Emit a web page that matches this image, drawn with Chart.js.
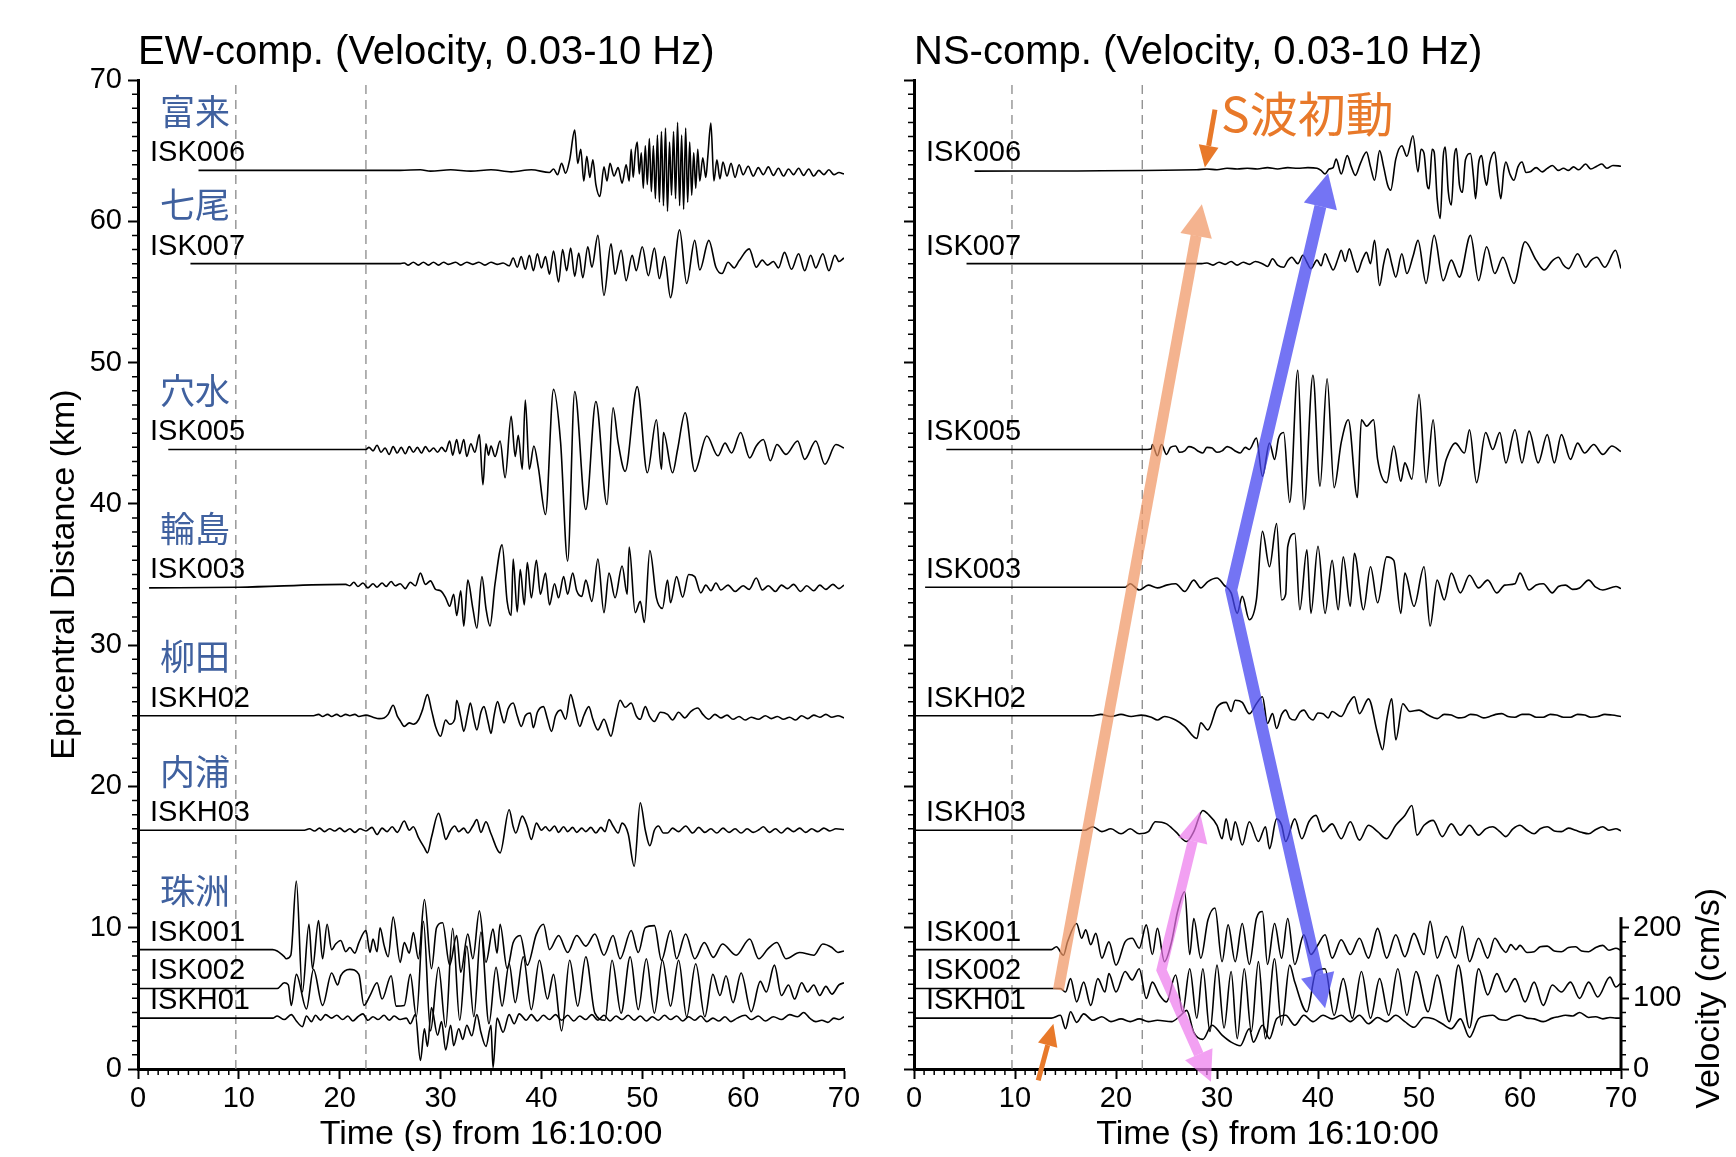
<!DOCTYPE html>
<html>
<head>
<meta charset="utf-8">
<script src="https://cdn.jsdelivr.net/npm/chart.js@4.4.1/dist/chart.umd.min.js"></script>
<style>
body { margin: 0; background: #fff; width: 1736px; height: 1157px; overflow: hidden; position: relative; }
canvas { position: absolute; top: 0; }
#ew { left: 0; }
#ns { left: 880px; }
</style>
</head>
<body>
<canvas id="ew" width="870" height="1157"></canvas>
<canvas id="ns" width="856" height="1157"></canvas>
<script>
const stations = ['ISK006', 'ISK007', 'ISK005', 'ISK003', 'ISKH02', 'ISKH03', 'ISK001', 'ISK002', 'ISKH01'];
const distances = [63.6, 57.0, 43.85, 34.1, 25.0, 16.9, 8.45, 5.7, 3.6];
const placeNames = ['富来', '七尾', '穴水', '輪島', '柳田', '内浦', '珠洲'];
const xTicks = [0, 10, 20, 30, 40, 50, 60, 70];
const yTicks = [0, 10, 20, 30, 40, 50, 60, 70];
const velTicks = [0, 100, 200];
const markerTimes = [9.7, 22.6];
const cmsPerKm = 20;

// EW component, [time (s), velocity (cm/s)]
const ewISK006 = [[6,0],[26,0],[28,1],[29,-1],[31,1],[33,-1],[35,1],[37,-2],[39,1],[40.8,-3],[41.2,2],[41.6,-6],[42,10],[42.4,-4],[42.8,15],[43.3,57],[43.6,10],[43.9,30],[44.2,-15],[44.5,20],[44.8,-10],[45.1,15],[45.4,-20],[45.8,-37],[46.2,5],[46.5,-15],[46.8,10],[47.2,-8],[47.6,4],[48.0,-18],[48.4,8],[48.7,-15],[48.9,30],[49.1,-10],[49.3,25],[49.5,40],[49.7,-5],[49.9,25],[50.1,-25],[50.3,35],[50.5,-20],[50.7,45],[50.9,-30],[51.1,35],[51.3,-40],[51.5,50],[51.7,-45],[51.9,55],[52.1,-50],[52.3,60],[52.5,-58],[52.7,40],[52.9,-35],[53.1,55],[53.3,-40],[53.5,68],[53.7,-50],[53.9,50],[54.1,-55],[54.3,60],[54.5,-45],[54.7,40],[54.9,-35],[55.1,25],[55.3,-25],[55.5,30],[55.7,-15],[56.0,18],[56.3,-10],[56.5,20],[56.8,67],[57.1,-15],[57.4,15],[57.7,-12],[58.0,12],[58.4,-8],[58.8,10],[59.2,-10],[59.6,8],[60,-6],[60.5,6],[61,-8],[61.5,4],[62,-6],[62.5,5],[63,-7],[63.5,3],[64,-8],[64.5,2],[65,-6],[65.5,3],[66,-7],[66.5,2],[67,-8],[67.5,0],[68,-6],[68.5,1],[69,-6],[69.5,-3],[70,-5]];
const ewISK007 = [[5.2,0],[26,0],[26.4,1],[26.8,-2],[27.3,2],[27.8,-2],[28.3,2],[28.8,-2],[29.3,2],[29.8,-2],[30.3,2],[30.8,-1],[31.5,2],[32,-2],[32.6,2],[33.2,-1],[33.8,2],[34.4,-2],[35,2],[35.6,-1],[36.2,1],[36.8,-3],[37.2,8],[37.6,-5],[38,10],[38.4,-8],[38.8,12],[39.2,-10],[39.6,14],[40,-6],[40.4,10],[40.8,-15],[41.2,18],[41.7,-26],[42.1,20],[42.5,-10],[42.9,22],[43.3,-18],[43.7,15],[44.1,-20],[44.6,24],[45.0,-5],[45.6,40],[46.2,-45],[46.9,28],[47.3,-15],[47.9,19],[48.4,-24],[49.0,12],[49.4,-10],[50.0,24],[50.6,-17],[51.2,22],[51.7,-21],[52.2,10],[52.8,-48],[53.7,48],[54.4,-28],[55.2,33],[55.7,-9],[56.6,33],[57.3,-5],[57.9,-14],[58.5,2],[59.1,-6],[59.6,4],[60.6,21],[61.3,-5],[61.9,5],[62.4,-2],[63,3],[63.5,-6],[64.1,16],[64.8,-8],[65.5,14],[66.1,-10],[66.7,12],[67.2,-6],[67.9,14],[68.5,-10],[69.1,12],[69.5,3],[70,8]];
const ewISK005 = [[3,0],[22.6,0],[22.9,3],[23.3,-2],[23.7,6],[24.1,-4],[24.5,2],[24.9,-7],[25.3,4],[25.7,-5],[26.1,3],[26.5,-6],[26.9,4],[27.3,-4],[27.7,3],[28.1,-5],[28.5,4],[28.9,-3],[29.3,2],[29.7,-4],[30.1,3],[30.5,-3],[30.9,12],[31.2,-8],[31.6,14],[31.9,-6],[32.3,14],[32.6,-10],[33.0,8],[33.4,-4],[33.85,21],[34.2,-50],[34.5,8],[34.75,-8],[35.0,5],[35.4,-10],[35.9,12],[36.4,-40],[37.0,47],[37.4,-10],[37.7,20],[38.1,-28],[38.4,70],[38.8,-28],[39.25,5],[39.7,-26],[40.4,-92],[41.2,85],[41.9,10],[42.6,-158],[43.3,82],[44.4,-85],[45.4,68],[46.5,-78],[47.1,59],[47.6,10],[48.3,-31],[49.5,89],[50.5,-33],[51.4,42],[51.9,-28],[52.1,24],[53.0,-33],[53.5,0],[54.25,52],[55.2,-31],[56.4,19],[57.5,-9],[58.2,9],[58.85,-5],[59.75,24],[60.65,-12],[61.3,5],[62.0,14],[62.7,-16],[63.35,7],[64.25,-7],[65.4,12],[66.1,-14],[67.2,12],[68.1,-21],[69.2,7],[70,2]];
const ewISK003 = [[1.1,-1],[10,0],[20.6,4],[21.0,2],[21.4,7],[21.8,1],[22.3,6],[22.8,-1],[23.3,5],[23.7,0],[24.2,6],[24.6,1],[25.1,8],[25.5,2],[26.0,5],[26.5,-2],[27.0,7],[27.5,2],[28.0,20],[28.5,4],[29.0,9],[29.5,-3],[30.0,-5],[30.5,-15],[30.9,-27],[31.3,-10],[31.6,-40],[32.0,-5],[32.3,-55],[32.7,10],[33.2,-30],[33.6,-58],[34.1,15],[34.5,-30],[34.9,-55],[35.4,5],[36.1,60],[36.6,-20],[37.0,-40],[37.2,40],[37.6,-35],[37.9,25],[38.3,-25],[38.6,35],[39.0,-15],[39.5,38],[39.9,-10],[40.4,20],[40.8,-25],[41.3,5],[41.7,-15],[42.2,15],[42.6,-10],[43.1,20],[43.5,-5],[44.0,-13],[44.4,10],[45.0,-20],[45.6,40],[46.2,-36],[46.7,20],[47.3,-15],[48.0,30],[48.5,-10],[48.7,57],[49.3,-36],[49.8,-20],[50.2,-50],[50.75,52],[51.4,-15],[52.0,-30],[52.5,10],[52.8,-22],[53.4,15],[54.0,-14],[54.6,18],[55.2,15],[55.8,-8],[56.3,3],[56.8,-5],[57.3,6],[57.8,-4],[58.5,3],[59.2,-6],[60,2],[60.6,-3],[61.3,13],[61.9,-4],[62.5,2],[63.2,-6],[63.8,3],[64.4,-2],[65,4],[65.7,-6],[66.3,2],[67,-5],[67.6,3],[68.2,-3],[68.9,4],[69.5,-2],[70,3]];
const ewISKH02 = [[0,0],[17.4,0],[17.9,2],[18.3,-1],[18.8,2],[19.2,-1],[19.7,2],[20.1,-1],[20.6,2],[21.0,0],[21.5,2],[21.9,-1],[22.6,1],[23.3,-2],[23.9,-4],[24.4,-3],[24.8,2],[25.3,15],[25.7,0],[26.0,-7],[26.4,-15],[26.9,-10],[27.3,-12],[27.8,-6],[28.2,8],[28.7,30],[29.1,8],[29.5,-15],[30.0,-29],[30.5,-6],[30.9,-12],[31.4,-5],[31.6,22],[32.0,-2],[32.3,-22],[32.7,3],[32.95,18],[33.3,-5],[33.6,-20],[34.0,5],[34.3,13],[34.7,-8],[35.0,-25],[35.3,0],[35.65,20],[36.0,3],[36.3,-10],[36.7,10],[37.2,18],[37.6,0],[38.0,-15],[38.4,0],[38.9,4],[39.2,-17],[39.6,5],[40.2,13],[40.6,-5],[41.0,-22],[41.4,0],[41.9,8],[42.4,-5],[42.9,30],[43.3,10],[43.8,-15],[44.2,0],[44.7,13],[45.1,-5],[45.6,-20],[46.2,-5],[46.9,-29],[47.3,-5],[47.8,22],[48.3,12],[48.9,18],[49.4,0],[49.8,-5],[50.3,13],[50.7,0],[51.2,-8],[51.8,5],[52.5,2],[53.0,-6],[53.6,5],[54.2,-3],[54.8,6],[55.5,11],[56,2],[56.6,-5],[57.2,2],[57.8,-3],[58.4,1],[59,-5],[59.6,-1],[60.2,-6],[60.8,-2],[61.5,-5],[62.2,0],[62.8,-4],[63.4,-1],[64,-5],[64.6,-2],[65.2,-6],[65.8,0],[66.4,-4],[67.0,1],[67.6,-2],[68.2,2],[68.8,-2],[69.4,0],[70,-3]];
const ewISKH03 = [[0,0],[16.5,0],[17,2],[17.5,-1],[18,3],[18.5,-2],[19,2],[19.5,-1],[20,3],[20.5,-2],[21,2],[21.5,-3],[22,2],[22.6,-1],[23.2,4],[23.7,-6],[24.2,3],[24.7,-2],[25.2,5],[25.7,-3],[26.4,13],[26.9,0],[27.3,5],[27.8,-10],[28.4,-25],[28.7,-32],[29.1,-10],[29.8,24],[30.2,5],[30.5,-13],[31.0,0],[31.4,6],[31.8,-2],[32.3,3],[32.7,-4],[33.2,6],[33.6,15],[34.0,-3],[34.5,12],[35.0,-5],[35.9,-32],[36.8,29],[37.2,5],[37.45,-4],[38.1,20],[38.6,5],[39.0,-13],[39.5,10],[40.0,0],[40.4,5],[40.8,-1],[41.3,6],[41.7,-3],[42.2,5],[42.6,-2],[43.1,4],[43.5,-3],[44.0,3],[44.4,-2],[44.9,4],[45.4,-4],[45.9,4],[46.3,-2],[46.7,15],[47.1,6],[47.6,-4],[48.0,10],[48.6,-5],[49.2,-51],[49.8,39],[50.3,0],[50.75,-22],[51.2,0],[51.6,6],[52.1,-4],[52.5,-4],[53.0,3],[53.6,-2],[54.3,6],[55,-4],[55.6,4],[56.2,-3],[56.8,2],[57.4,-4],[58,3],[58.6,-3],[59.2,2],[59.8,-4],[60.4,2],[61,-3],[61.6,1],[62.0,5],[62.6,-3],[63.2,2],[63.8,-4],[64.4,3],[65,-2],[65.6,3],[66.2,-3],[66.8,2],[67.4,-2],[68,3],[68.6,-1],[69.2,2],[70,1]];
const ewISK001 = [[0,0],[13.35,0],[13.8,-2],[14.5,-10],[14.7,-13],[15.15,-8],[15.7,97],[16.3,-60],[16.95,36],[17.3,-27],[17.9,41],[18.3,-13],[18.75,36],[19.2,0],[19.6,8],[20.1,13],[20.6,-3],[21.0,3],[21.5,-5],[21.9,10],[22.6,27],[23.0,-4],[23.3,15],[23.7,-3],[24.0,31],[24.4,6],[24.8,-10],[25.3,46],[26.0,-18],[26.4,10],[26.9,-5],[27.3,24],[27.8,-13],[28.4,71],[29.1,-27],[29.6,31],[30.2,38],[30.9,-22],[31.6,20],[32.0,-32],[32.7,22],[33.2,-13],[33.85,55],[34.5,-18],[35.2,29],[35.6,-5],[35.9,36],[36.6,-27],[37.2,10],[37.9,20],[38.6,-22],[39.5,22],[40.2,36],[40.8,0],[41.7,20],[42.6,-4],[43.5,20],[44.4,5],[45.3,22],[46.2,-8],[47.1,20],[47.8,-13],[48.9,27],[49.6,-4],[50.3,31],[51.2,34],[51.9,-15],[52.8,27],[53.4,-13],[54.3,22],[55.2,-13],[56.15,10],[57.05,-11],[57.95,8],[59.3,-8],[60.65,15],[61.55,-13],[62.45,1],[63.35,10],[64.25,-13],[65.6,-4],[67.0,-8],[67.9,8],[68.8,3],[69.4,-4],[70,-2]];
const ewISK002 = [[0,0],[13.8,0],[14.5,8],[14.9,5],[15.2,-24],[15.7,20],[16.7,-29],[17.4,27],[18.3,-24],[19.2,22],[19.8,5],[20.1,18],[21.0,27],[21.9,20],[22.4,-24],[23.0,-10],[23.7,8],[24.2,-15],[25.1,18],[25.6,-25],[26.4,-24],[27.0,20],[27.6,-40],[28.3,95],[29.0,-60],[29.8,30],[30.5,-55],[31.2,85],[31.9,-45],[32.6,60],[33.3,-40],[34.0,80],[34.8,-50],[35.5,30],[36.1,-25],[36.8,35],[37.4,-20],[38.2,45],[39.0,-30],[39.8,40],[40.6,-15],[41.2,20],[42.0,-60],[42.8,40],[43.6,-25],[44.4,45],[45.3,-35],[46.3,-45],[47.0,40],[47.9,-35],[48.8,45],[49.6,-30],[50.4,42],[51.2,-35],[52.0,40],[52.8,-25],[53.6,40],[54.4,-40],[55.3,35],[56.2,-40],[57.0,20],[57.7,-10],[58.3,18],[59.0,-20],[59.8,22],[60.8,-33],[61.7,10],[62.3,-5],[63.1,33],[63.8,-10],[64.5,5],[65.1,-15],[65.8,8],[66.4,-5],[67.0,5],[67.6,-10],[68.2,3],[68.8,-8],[69.5,5],[70,8]];
const ewISKH01 = [[0,0],[13.35,0],[13.8,3],[14.5,-2],[15.2,5],[15.7,-4],[16.3,-12],[16.7,3],[17.2,-5],[17.6,4],[18.1,-3],[18.6,5],[19.2,0],[19.7,4],[20.3,-2],[20.8,3],[21.3,-4],[21.8,2],[22.3,6],[22.8,-3],[23.3,2],[23.8,-2],[24.4,4],[24.9,-3],[25.4,3],[26.0,-2],[26.6,0],[27.0,-8],[27.5,5],[28.0,-60],[28.4,-15],[28.7,-40],[29.1,15],[29.7,-24],[30.1,-5],[30.5,-45],[31.0,-10],[31.3,-39],[31.8,-15],[32.2,-30],[32.6,-10],[33.1,-25],[33.6,5],[34.0,-20],[34.5,-40],[35.0,-10],[35.2,-70],[35.6,0],[36.2,-20],[36.8,5],[37.3,-8],[37.8,6],[38.5,-3],[39.0,5],[39.6,-4],[40.2,4],[40.8,-2],[41.4,5],[42.0,-3],[42.6,4],[43.2,-4],[43.8,3],[44.4,-2],[45.0,5],[45.6,-3],[46.2,4],[46.8,-4],[47.4,3],[48.0,-2],[48.6,4],[49.2,-3],[49.8,3],[50.4,-4],[51.0,2],[51.6,-3],[52.2,4],[52.8,-2],[53.4,3],[54.0,-4],[54.6,2],[55.2,-3],[55.8,3],[56.4,-5],[57.0,0],[57.6,-4],[58.2,2],[58.8,-5],[59.4,0],[60.2,4],[60.8,-2],[61.5,3],[62.2,-4],[63.0,2],[63.8,-2],[64.6,5],[65.4,2],[66.0,8],[66.6,0],[67.2,-5],[67.8,-3],[68.4,-6],[69.0,0],[69.5,-2],[70,2]];

// NS component, [time (s), velocity (cm/s)]
const nsISK006 = [[6,-1],[28,1],[29,2],[30,1],[31,3],[32,2],[33,3],[34,2],[35,4],[36,2],[37,4],[38,3],[39,4],[39.9,3],[40.3,0],[40.7,-5],[41.1,2],[41.5,4],[41.8,16],[42.3,-5],[42.9,21],[43.3,5],[43.7,-7],[44.2,10],[44.8,26],[45.2,5],[45.6,-14],[46.1,28],[46.5,5],[46.9,-21],[47.2,-28],[47.7,16],[48.3,35],[48.8,20],[49.4,49],[49.9,-2],[50.2,30],[50.5,24],[50.8,-20],[51.0,-26],[51.3,30],[51.5,26],[51.8,-40],[52.1,-68],[52.4,20],[52.6,33],[52.9,-30],[53.2,-49],[53.5,20],[53.7,31],[54.0,-20],[54.3,-31],[54.6,15],[55.1,24],[55.4,-10],[55.6,-40],[55.9,10],[56.2,21],[56.5,-10],[56.7,-21],[57.0,10],[57.5,26],[57.8,-10],[58.1,-40],[58.4,0],[58.6,12],[59.0,-5],[59.4,-14],[59.8,5],[60.2,12],[60.6,-3],[61.0,-2],[61.6,4],[62.2,-2],[62.7,3],[63.2,7],[63.8,0],[64.3,3],[64.8,0],[65.3,5],[65.8,1],[66.5,9],[67.0,2],[67.6,6],[68.1,9],[68.6,3],[69.2,7],[70,6]];
const nsISK007 = [[5.2,0],[28.5,0],[29,1],[29.6,-2],[30.2,2],[30.8,-1],[31.4,3],[32,-2],[32.6,2],[33.2,-1],[33.8,3],[34.5,0],[35.0,-4],[35.5,7],[36.0,-2],[36.6,-5],[37.0,4],[37.4,9],[38.0,0],[38.5,12],[38.9,2],[39.3,-7],[39.9,5],[40.3,-3],[40.7,14],[41.1,2],[41.5,-9],[42.0,8],[42.3,19],[42.7,3],[43.1,21],[43.5,4],[43.9,-12],[44.4,6],[44.8,16],[45.2,0],[45.6,33],[46.1,-31],[46.5,0],[46.9,21],[47.3,0],[47.7,-19],[48.3,14],[48.8,-14],[49.4,10],[49.9,33],[50.7,-28],[51.5,40],[52.4,-24],[53.2,5],[54.0,-19],[55.1,40],[55.9,-24],[56.7,24],[57.5,-14],[58.3,9],[59.4,-28],[60.5,31],[61.6,5],[62.4,-9],[63.2,4],[63.8,9],[64.3,-2],[64.8,-7],[65.7,14],[66.5,-5],[67.0,4],[67.6,9],[68.4,-5],[69.45,19],[70,-7]];
const nsISK005 = [[3.2,0],[23.1,0],[23.5,1],[23.6,7],[24.1,-9],[24.5,7],[25.0,-7],[25.4,3],[25.9,5],[26.3,-4],[26.8,-2],[27.2,4],[27.7,2],[28.2,-3],[28.6,-5],[29.0,3],[29.5,2],[30.0,-4],[30.5,-2],[31.0,4],[31.4,2],[31.9,-3],[32.3,-5],[32.8,3],[33.2,0],[33.9,16],[34.5,-38],[35.2,9],[35.7,-14],[36.1,16],[36.6,24],[37.2,-75],[38.0,112],[38.6,-85],[39.5,105],[40.2,-52],[40.9,100],[41.6,-54],[42.3,10],[43.0,42],[43.9,-68],[44.3,42],[44.8,33],[45.5,42],[45.9,-14],[46.8,-47],[47.5,5],[48.2,-45],[48.6,-19],[49.3,-42],[50.0,78],[50.7,-47],[51.4,42],[52.0,-52],[52.7,-14],[53.6,9],[54.5,-5],[55.0,28],[55.7,-47],[56.6,24],[57.3,0],[58.0,24],[58.6,-19],[59.5,28],[60.2,-19],[60.9,26],[61.8,-19],[62.7,21],[63.4,-19],[64.1,21],[65.0,-14],[65.7,9],[66.4,-5],[67.3,7],[68.2,-7],[69.1,5],[70,-3]];
const nsISK003 = [[1.1,0],[20.9,0],[21.4,5],[22.3,-4],[23.2,3],[24.1,-1],[25.0,3],[25.9,5],[26.8,-6],[27.7,10],[28.4,-1],[29.1,8],[30.0,13],[30.7,3],[31.4,-8],[32.0,-37],[32.5,-13],[33.2,-46],[33.9,-18],[34.5,79],[35.2,29],[35.9,90],[36.4,-18],[36.8,-10],[37.0,57],[37.7,76],[38.2,-32],[38.9,53],[39.3,-37],[40.0,58],[40.7,-37],[41.4,38],[42.0,-32],[42.5,43],[43.2,-27],[43.6,48],[44.5,-32],[45.2,29],[45.9,-22],[46.8,43],[47.5,38],[48.2,-37],[48.6,20],[49.5,-27],[50.5,29],[51.1,-55],[51.8,10],[52.5,-18],[53.2,20],[54.1,-8],[55.0,17],[55.9,-1],[56.8,10],[57.7,-8],[58.5,3],[59.5,5],[60.0,20],[60.9,-4],[61.6,3],[62.3,5],[63.2,-8],[63.8,1],[64.5,3],[65.2,-3],[65.9,-1],[66.8,10],[67.5,0],[68.2,-4],[69.5,1],[70,-2]];
const nsISKH02 = [[0,0],[17.7,0],[18.5,2],[19.5,-1],[20.5,2],[21.5,-1],[22.5,1],[23.5,-2],[24.1,-6],[24.8,-1],[25.9,-6],[26.8,-15],[28.0,-32],[28.4,-10],[29.1,-20],[30.0,12],[30.9,19],[31.4,6],[31.8,22],[32.5,19],[33.2,3],[33.9,17],[34.5,27],[35.0,-11],[35.5,3],[35.9,-18],[36.4,2],[36.8,8],[37.2,-3],[37.7,-6],[38.2,5],[38.6,8],[39.1,-2],[39.5,-6],[40.0,4],[40.5,3],[41.0,-3],[41.4,6],[42.3,-1],[43.0,17],[43.6,27],[44.1,3],[45.0,24],[45.9,-25],[46.4,-48],[46.8,-6],[47.3,24],[47.7,-34],[48.4,17],[49.1,6],[50.0,8],[50.9,1],[51.8,-4],[52.5,2],[53.2,1],[53.9,-3],[54.5,-2],[55.1,2],[55.7,1],[56.4,-3],[57.0,-1],[57.6,2],[58.2,3],[58.8,-1],[59.5,-2],[60.2,2],[60.9,2],[61.6,-2],[62.3,-2],[63.0,2],[63.6,1],[64.3,-2],[65.0,-2],[65.7,2],[66.4,1],[67.0,-2],[67.7,-1],[68.4,2],[69.1,1],[70,-1]];
const nsISKH03 = [[0,0],[16.9,0],[17.7,5],[18.6,-2],[19.5,2],[20.5,-5],[21.4,2],[22.3,-5],[23.2,-2],[23.9,12],[25.0,9],[25.9,-2],[27.0,-16],[27.7,-2],[28.6,28],[29.1,23],[30.0,7],[30.5,-12],[30.9,16],[31.4,-14],[31.8,12],[32.5,-21],[33.2,12],[34.1,-16],[34.8,5],[35.2,-26],[35.9,16],[36.4,7],[36.8,-16],[37.7,16],[38.4,-12],[39.1,12],[39.8,21],[40.5,-2],[41.4,9],[42.3,-12],[43.2,12],[44.1,-14],[45.0,7],[45.9,-2],[46.8,-12],[47.7,7],[48.6,21],[49.3,35],[49.8,-7],[50.5,7],[51.4,14],[52.3,-9],[53.2,9],[54.1,-7],[55.0,7],[55.9,-7],[56.6,2],[57.3,5],[58.0,-2],[58.6,-9],[59.3,2],[60.0,7],[60.7,0],[61.4,-5],[62.0,2],[62.7,5],[63.4,-1],[64.1,-2],[64.8,3],[65.5,0],[66.1,-3],[66.8,-5],[67.5,1],[68.2,5],[68.8,0],[69.5,2],[70,-1]];
const nsISK001 = [[0,0],[13.6,0],[14.1,4],[14.8,-8],[15.2,11],[16.1,37],[16.6,16],[17.0,28],[17.5,7],[18.0,23],[18.6,-12],[19.3,11],[20.0,-22],[20.9,11],[21.6,16],[22.3,2],[23.0,35],[23.6,-7],[24.1,30],[24.8,-17],[25.5,11],[26.1,54],[26.8,82],[27.3,-7],[27.7,44],[28.4,-12],[29.1,42],[29.8,59],[30.5,-17],[31.1,35],[31.8,-17],[32.5,37],[33.2,-21],[33.9,44],[34.5,54],[35.0,-21],[35.7,37],[36.4,-12],[37.0,44],[37.7,-21],[38.6,21],[39.3,-7],[40.0,7],[40.7,21],[41.4,-12],[42.3,14],[43.2,-7],[44.1,16],[45.0,-12],[45.9,30],[46.8,-12],[47.7,21],[48.6,-10],[49.5,23],[50.5,-7],[51.1,40],[51.8,-12],[52.7,19],[53.6,-12],[54.3,33],[55.0,-17],[55.9,16],[56.8,-12],[57.5,16],[58.2,2],[58.6,-4],[59.1,7],[59.6,0],[60.0,6],[60.7,-4],[61.4,-3],[62.0,4],[62.7,5],[63.4,-2],[64.1,-3],[64.8,3],[65.5,4],[66.1,-2],[66.8,-3],[67.5,3],[68.2,6],[68.8,-1],[69.5,2],[70,-1]];
const nsISK002 = [[0,0],[14.5,0],[15.0,-5],[15.5,14],[16.1,-19],[16.8,9],[17.5,-24],[18.2,14],[18.9,-5],[19.3,21],[20.0,-5],[20.9,24],[21.6,12],[22.3,28],[23.0,-14],[23.6,9],[24.3,-9],[25.0,-19],[25.9,19],[26.6,-33],[27.3,28],[28.0,-42],[28.6,28],[29.3,-61],[30.0,33],[30.7,-56],[31.4,24],[32.0,-71],[32.7,28],[33.4,-61],[34.1,38],[34.8,-71],[35.7,42],[36.4,-52],[37.2,33],[37.7,9],[38.9,-33],[39.8,24],[40.7,28],[41.6,-38],[42.5,14],[43.4,-42],[44.3,24],[45.2,-42],[46.1,14],[47.0,-38],[47.9,28],[48.8,-38],[49.7,24],[50.9,-33],[51.8,19],[53.0,-47],[53.9,33],[55.0,-56],[55.9,28],[56.8,-9],[57.7,21],[58.6,-5],[59.5,14],[60.5,-19],[61.4,9],[62.3,-24],[63.2,5],[64.1,-5],[65.0,9],[65.9,-14],[66.8,9],[67.7,-12],[68.9,16],[69.5,2],[70,8]];
const nsISKH01 = [[0,0],[13.6,0],[14.5,4],[15.0,-15],[15.5,9],[16.1,-6],[16.8,6],[17.7,-3],[18.6,2],[19.5,-5],[20.5,-1],[21.4,-5],[22.3,-1],[23.2,-5],[24.1,-3],[25.5,-5],[26.4,4],[27.0,11],[27.7,-20],[28.6,-30],[29.5,-10],[30.5,-24],[31.4,-34],[32.3,-39],[33.2,-15],[33.6,-34],[34.5,-10],[35.2,-29],[35.9,-1],[36.8,4],[37.7,-10],[38.6,4],[39.5,-5],[40.5,4],[41.4,-1],[42.3,4],[43.2,-5],[44.1,4],[45.0,-8],[45.9,1],[46.8,-5],[47.7,4],[48.6,-5],[49.5,-13],[50.5,1],[51.4,-1],[52.3,-8],[53.2,-15],[54.1,-1],[55.0,-27],[55.9,-1],[56.6,3],[57.3,4],[58.0,-2],[58.6,-3],[59.3,2],[60.0,4],[60.7,0],[61.4,-1],[62.3,-5],[63.2,0],[63.8,2],[64.5,4],[65.2,3],[65.9,8],[66.8,1],[67.5,2],[68.2,-1],[68.9,1],[69.5,0],[70,0]];

const ewTraces = [ewISK006, ewISK007, ewISK005, ewISK003, ewISKH02, ewISKH03, ewISK001, ewISK002, ewISKH01];
const nsTraces = [nsISK006, nsISK007, nsISK005, nsISK003, nsISKH02, nsISKH03, nsISK001, nsISK002, nsISKH01];

// S-wave guide arrows on the NS panel, points as [time (s), distance (km)]
const peachPath = [[14.3, 5.6], [28.5, 61.2]];
const bluePath = [[41.0, 63.4], [31.4, 33.9], [40.7, 4.3]];
const pinkPath = [[28.3, 18.2], [24.5, 7.0], [29.4, -0.9]];
const onsetArrowTop = [[29.8, 67.9], [28.8, 63.8]];
const onsetArrowBottom = [[12.3, -0.8], [13.8, 3.2]];

const sans = size => `${size}px 'Liberation Sans', Arial, sans-serif`;
const cjk = size => `${size}px 'Noto Sans CJK JP', sans-serif`;
Chart.defaults.font.family = "'Liberation Sans', Arial, sans-serif";
Chart.defaults.color = '#000';

function traceDatasets(traces) {
    const sets = traces.map((tr, i) => ({
        data: tr.map(p => ({ x: p[0], y: distances[i] + p[1] / cmsPerKm })),
        borderColor: '#000',
        borderWidth: 1.6,
        pointRadius: 0,
        fill: false,
        cubicInterpolationMode: 'monotone'
    }));
    markerTimes.forEach(t => sets.push({
        data: [{ x: t, y: 0 }, { x: t, y: 70 }],
        borderColor: '#8a8a8a',
        borderWidth: 1.3,
        borderDash: [9, 6],
        pointRadius: 0
    }));
    return sets;
}

function drawArrowPath(ctx, pts, headStart, style) {
    const n = pts.length;
    const p = pts.slice();
    const heads = [];
    const cut = (tip, from) => {
        const a = Math.atan2(tip[1] - from[1], tip[0] - from[0]);
        heads.push({ tip, a });
        return [tip[0] - style.hl * Math.cos(a), tip[1] - style.hl * Math.sin(a)];
    };
    if (headStart) p[0] = cut(pts[0], pts[1]);
    p[n - 1] = cut(pts[n - 1], pts[n - 2]);
    ctx.strokeStyle = style.color;
    ctx.lineWidth = style.w;
    ctx.lineJoin = 'miter';
    ctx.beginPath();
    ctx.moveTo(p[0][0], p[0][1]);
    for (let i = 1; i < n; i++) ctx.lineTo(p[i][0], p[i][1]);
    ctx.stroke();
    ctx.fillStyle = style.color;
    heads.forEach(h => {
        const bx = h.tip[0] - style.hl * Math.cos(h.a), by = h.tip[1] - style.hl * Math.sin(h.a);
        ctx.beginPath();
        ctx.moveTo(h.tip[0], h.tip[1]);
        ctx.lineTo(bx + style.hw * Math.sin(h.a), by - style.hw * Math.cos(h.a));
        ctx.lineTo(bx - style.hw * Math.sin(h.a), by + style.hw * Math.cos(h.a));
        ctx.closePath();
        ctx.fill();
    });
}

function decorPlugin(panel) {
    return {
        id: 'decor',
        afterDraw(chart) {
            const { ctx, chartArea: a, scales } = chart;
            const x = scales.x, y = scales.y, y2 = scales.y2;
            ctx.save();
            // minor ticks
            ctx.strokeStyle = '#000';
            ctx.lineWidth = 1.5;
            ctx.beginPath();
            for (let v = 1; v < 70; v++) {
                if (v % 10 === 0) continue;
                const px = x.getPixelForValue(v);
                ctx.moveTo(px, a.bottom);
                ctx.lineTo(px, a.bottom + 6);
                const py = y.getPixelForValue(v);
                ctx.moveTo(a.left - 6, py);
                ctx.lineTo(a.left, py);
            }
            ctx.stroke();

            // panel title
            ctx.fillStyle = '#000';
            ctx.textBaseline = 'middle';
            ctx.textAlign = 'left';
            ctx.font = sans(40);
            ctx.fillText(panel.title, a.left, 53);

            // station codes
            ctx.font = sans(29);
            stations.forEach((s, i) => ctx.fillText(s, a.left + 12, y.getPixelForValue(distances[i]) - 17));

            if (panel.places) {
                ctx.font = cjk(35);
                ctx.fillStyle = '#40619f';
                placeNames.forEach((nm, i) => ctx.fillText(nm, a.left + 22, y.getPixelForValue(distances[i]) - 59));
            }

            if (y2) {
                // short velocity axis
                ctx.strokeStyle = '#000';
                ctx.lineWidth = 3;
                ctx.beginPath();
                ctx.moveTo(a.right, y2.getPixelForValue(0) + 1.5);
                ctx.lineTo(a.right, y2.getPixelForValue(215));
                ctx.stroke();
                ctx.lineWidth = 1.5;
                ctx.beginPath();
                for (let v = 20; v < 215; v += 20) {
                    if (v % 100 === 0) continue;
                    const py = y2.getPixelForValue(v);
                    ctx.moveTo(a.right, py);
                    ctx.lineTo(a.right + 5, py);
                }
                ctx.stroke();
                ctx.save();
                ctx.translate(a.right + 89, y2.getPixelForValue(100));
                ctx.rotate(-Math.PI / 2);
                ctx.textAlign = 'center';
                ctx.fillStyle = '#000';
                ctx.font = sans(34);
                ctx.fillText('Velocity (cm/s)', 0, 0);
                ctx.restore();

                const px = pts => pts.map(p => [x.getPixelForValue(p[0]), y.getPixelForValue(p[1])]);
                drawArrowPath(ctx, px(peachPath), false, { color: 'rgba(240,150,100,0.72)', w: 11, hl: 32, hw: 16 });
                drawArrowPath(ctx, px(bluePath), true, { color: 'rgba(70,70,240,0.75)', w: 12, hl: 34, hw: 17 });
                drawArrowPath(ctx, px(pinkPath), true, { color: 'rgba(236,120,236,0.7)', w: 10, hl: 30, hw: 15 });
                drawArrowPath(ctx, px(onsetArrowTop), false, { color: '#e8792a', w: 5, hl: 22, hw: 10 });
                drawArrowPath(ctx, px(onsetArrowBottom), false, { color: '#e8792a', w: 5, hl: 22, hw: 10 });

                ctx.fillStyle = '#e8792a';
                ctx.font = cjk(48);
                ctx.textAlign = 'left';
                ctx.textBaseline = 'middle';
                ctx.fillText('S波初動', x.getPixelForValue(30.4), y.getPixelForValue(67.6));
            }
            ctx.restore();
        }
    };
}

function makePanel(canvasId, panel) {
    const scales = {
        x: {
            type: 'linear', min: 0, max: 70,
            afterBuildTicks: s => { s.ticks = xTicks.map(v => ({ value: v })); },
            ticks: { color: '#000', font: { size: 29 }, padding: 3, maxRotation: 0, autoSkip: false },
            grid: { drawOnChartArea: false, tickLength: 10, tickWidth: 2, tickColor: '#000' },
            border: { color: '#000', width: 3 },
            title: { display: true, text: 'Time (s) from 16:10:00', color: '#000', font: { size: 34 }, padding: { top: 0, bottom: 2 } },
            afterFit: s => { s.height = 88; }
        },
        y: {
            type: 'linear', min: 0, max: 70, position: 'left',
            afterBuildTicks: s => { s.ticks = yTicks.map(v => ({ value: v })); },
            ticks: { display: panel.yLabels, color: '#000', font: { size: 29 }, padding: 6 },
            grid: { drawOnChartArea: false, tickLength: 10, tickWidth: 2, tickColor: '#000' },
            border: { color: '#000', width: 3 },
            title: { display: panel.yLabels, text: 'Epicentral Distance (km)', color: '#000', font: { size: 34 }, padding: { top: 44, bottom: 0 } },
            afterFit: s => { s.width = panel.yWidth; }
        }
    };
    if (panel.velocity) {
        scales.y2 = {
            type: 'linear', min: 0, max: 70 * cmsPerKm, position: 'right',
            afterBuildTicks: s => { s.ticks = velTicks.map(v => ({ value: v })); },
            ticks: { color: '#000', font: { size: 29 }, padding: 4 },
            grid: { drawOnChartArea: false, tickLength: 8, tickWidth: 2, tickColor: '#000' },
            border: { display: false },
            afterFit: s => { s.width = 115; }
        };
    }
    const ctx = document.getElementById(canvasId).getContext('2d');
    new Chart(ctx, {
        type: 'line',
        data: { datasets: traceDatasets(panel.traces) },
        options: {
            responsive: false,
            animation: false,
            parsing: false,
            layout: { padding: { top: 80, right: panel.padRight, left: 0, bottom: 0 } },
            plugins: { legend: { display: false }, tooltip: { enabled: false } },
            scales: scales
        },
        plugins: [decorPlugin(panel)]
    });
}

makePanel('ew', { title: 'EW-comp. (Velocity, 0.03-10 Hz)', traces: ewTraces, yLabels: true, yWidth: 138, padRight: 26, places: true, velocity: false });
makePanel('ns', { title: 'NS-comp. (Velocity, 0.03-10 Hz)', traces: nsTraces, yLabels: false, yWidth: 34, padRight: 0, places: false, velocity: true });
</script>
</body>
</html>
